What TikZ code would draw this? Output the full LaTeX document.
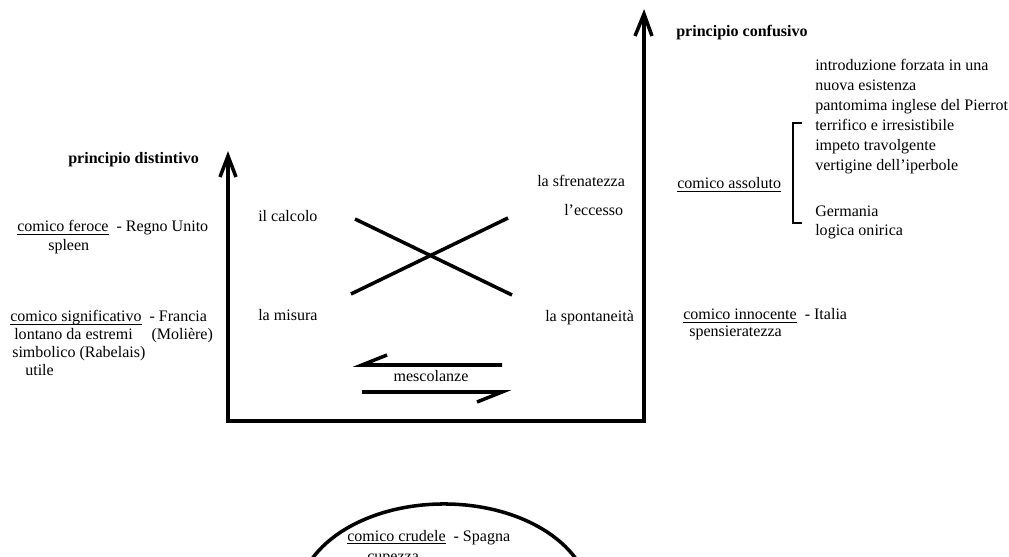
\documentclass[tikz,border=0pt]{standalone}
\usepackage{fontspec}
\setmainfont{Liberation Serif}
\newcommand{\sotto}[1]{\underline{\smash{#1}}}
\begin{document}
\begin{tikzpicture}[x=0.025cm,y=-0.025cm,inner sep=0mm,
  txt/.style={anchor=west,text height=2.9mm,text depth=0.9mm,font=\fontsize{11.4pt}{13.7pt}\selectfont},
  ctxt/.style={text height=2.9mm,text depth=0.9mm,font=\fontsize{11.4pt}{13.7pt}\selectfont},
  tit/.style={txt,font=\fontsize{11.4pt}{13.7pt}\selectfont\bfseries},
  axis/.style={line width=2.5pt},
  thin/.style={line width=0.8pt}]

\useasboundingbox (0,0) rectangle (1009,557);

% assi
\coordinate (o1) at (228,421);
\coordinate (o2) at (644,421);
\coordinate (dtop) at (228,156);
\coordinate (ctop) at (644,14);
\draw[axis] (dtop) -- (o1) -- (o2) -- (ctop);
\draw[axis] (dtop) ++(-8,21) -- (dtop) -- ++(8,21);
\draw[axis] (ctop) ++(-9,22) -- (ctop) -- ++(8,22);

% croce
\coordinate (c1) at (355,219);
\coordinate (c2) at (512,295);
\coordinate (c3) at (351,294);
\coordinate (c4) at (508,218);
\draw[axis] (c1) -- (c2);
\draw[axis] (c3) -- (c4);

% mescolanze
\node[ctxt] (mix) at (431,378) {mescolanze};
\coordinate (m1) at (502,365);
\coordinate (m2) at (362,365);
\coordinate (m3) at (362,392);
\coordinate (m4) at (502,392);
\draw[axis] (m1) -- (m2) -- ++(25,-10);
\draw[axis] (m3) -- (m4) -- ++(-25,10);

% principio distintivo
\node[tit] (pd) at (68,160) {principio distintivo};
\node[txt] (cf) at (17,228) {\sotto{comico feroce}\ \ - Regno Unito};
\node[txt] (spl) at (48,247) {spleen};
\node[txt] (cs) at (10,318) {\sotto{comico significativo}\ \ - Francia};
\node[txt] (lon) at (14,336) {lontano da estremi\hspace{0.47cm}(Molière)};
\node[txt] (sim) at (12,354) {simbolico (Rabelais)};
\node[txt] (ut) at (25,372) {utile};

\node[txt] (calc) at (258,218) {il calcolo};
\node[txt] (mis) at (258,317) {la misura};
\node[txt] (sfr) at (537,183) {la sfrenatezza};
\node[txt] (ecc) at (564,212) {l'eccesso};
\node[txt] (spo) at (545,318) {la spontaneità};

% principio confusivo
\node[tit] (pc) at (676,33) {principio confusivo};
\node[txt] (l1) at (815,67) {introduzione forzata in una};
\node[txt] (l2) at (815,87) {nuova esistenza};
\node[txt] (l3) at (815,107) {pantomima inglese del Pierrot};
\node[txt] (l4) at (815,127) {terrifico e irresistibile};
\node[txt] (l5) at (815,147) {impeto travolgente};
\node[txt] (l6) at (815,167) {vertigine dell'iperbole};
\node[txt] (ger) at (815,213) {Germania};
\node[txt] (log) at (815,232) {logica onirica};
\node[txt] (ca) at (677,185) {\sotto{comico assoluto}};
\coordinate (b1) at (802,123);
\coordinate (b2) at (793,123);
\coordinate (b3) at (793,223);
\coordinate (b4) at (802,223);
\draw[thin] (b1) -- (b2) -- (b3) -- (b4);

\node[txt] (ci) at (683,316) {\sotto{comico innocente}\ \ - Italia};
\node[txt] (spe) at (689,333) {spensieratezza};

% comico crudele
\begin{scope}
\clip (0,0) rectangle (1009,557);
\draw[axis] (444,600) ellipse [x radius=3.65cm, y radius=2.4cm];
\end{scope}
\node[txt] (ccr) at (347,537) {\sotto{comico crudele}\ \ - Spagna};
\node[txt] (cup) at (367,557) {cupezza};

\end{tikzpicture}
\end{document}
